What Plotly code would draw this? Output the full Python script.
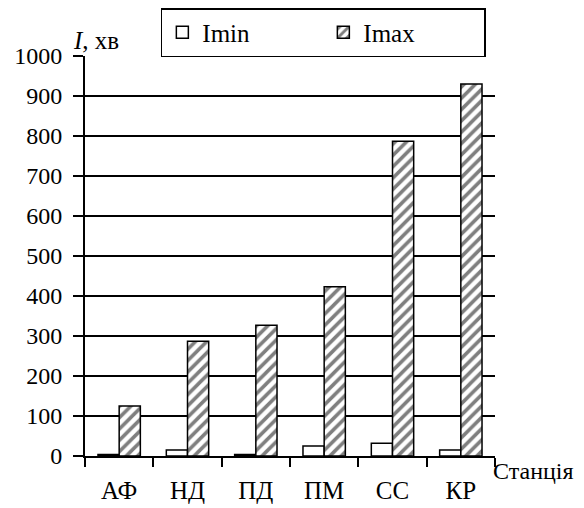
import plotly.graph_objects as go

stations = ["АФ", "НД", "ПД", "ПМ", "СС", "КР"]
imin = [4, 15, 4, 25, 32, 15]
imax = [125, 287, 327, 423, 787, 930]
y_ticks = [0, 100, 200, 300, 400, 500, 600, 700, 800, 900, 1000]

FONT = "Liberation Serif"
F_Y = dict(family=FONT, size=24, color="black")
F_X = dict(family=FONT, size=25, color="black")

fig = go.Figure()
fig.add_trace(go.Bar(
    x=stations, y=imin, name="Imin",
    marker=dict(color="white", line=dict(color="black", width=1.5)),
))
fig.add_trace(go.Bar(
    x=stations, y=imax, name="Imax",
    marker=dict(color="white", line=dict(color="black", width=1.5),
                pattern=dict(shape="/", fgcolor="black", bgcolor="white",
                             size=8, solidity=0.45)),
))

fig.update_layout(
    width=584, height=508,
    margin=dict(l=85, r=89, t=56, b=52, autoexpand=False),
    paper_bgcolor="white", plot_bgcolor="white",
    barmode="group", bargap=0.38, bargroupgap=0,
    showlegend=True,
    legend=dict(
        orientation="h", x=0.185, y=1.12, xanchor="left", yanchor="top",
        bordercolor="black", borderwidth=1.5, bgcolor="white",
        font=dict(family=FONT, size=25, color="black"),
        entrywidth=116, itemwidth=30,
    ),
    xaxis=dict(
        type="category", showline=True, linecolor="black", linewidth=2,
        ticks="outside", tickson="boundaries", ticklen=9, tickcolor="black",
        tickwidth=1.5, showgrid=False, ticklabelstandoff=11, automargin=False,
        tickfont=F_X,
    ),
    yaxis=dict(
        range=[0, 1000], tickvals=y_ticks, showline=True, linecolor="black",
        linewidth=2, ticks="outside", ticklen=10, tickcolor="black",
        tickwidth=1.5, showgrid=True, gridcolor="black", gridwidth=1.5,
        zeroline=False, ticklabelstandoff=6, automargin=False,
        tickfont=F_Y,
    ),
    annotations=[
        dict(text="<i>I</i>, хв", xref="paper", yref="paper",
             x=-0.035, y=1.0, xanchor="left", yanchor="bottom",
             showarrow=False, font=F_X),
        dict(text="Станція", xref="paper", yref="paper",
             x=0.99, y=0.0, xanchor="left", yanchor="top",
             showarrow=False, font=dict(family=FONT, size=24, color="black")),
    ],
)

fig.write_html("out.html")
